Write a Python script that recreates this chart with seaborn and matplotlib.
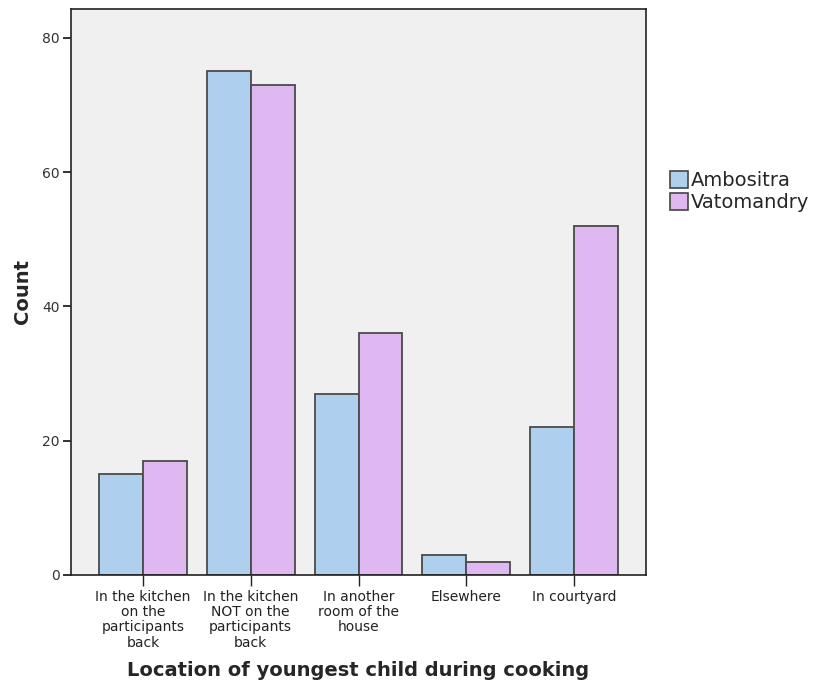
import matplotlib
matplotlib.use("Agg")
import matplotlib.pyplot as plt
import seaborn as sns
import pandas as pd
from matplotlib.patches import Patch

categories = ["In the kitchen\non the\nparticipants\nback",
              "In the kitchen\nNOT on the\nparticipants\nback",
              "In another\nroom of the\nhouse",
              "Elsewhere",
              "In courtyard"]
ambositra = [15, 75, 27, 3, 22]
vatomandry = [17, 73, 36, 2, 52]
series = ["Ambositra", "Vatomandry"]
colors = ["#AED0EE", "#DFB8F1"]

df = pd.DataFrame({
    "Location": categories * 2,
    "Count": ambositra + vatomandry,
    "Site": [series[0]] * len(categories) + [series[1]] * len(categories),
})

sns.set_style("ticks")
plt.rcParams['font.family'] = ['DejaVu Sans']

fig = plt.figure(figsize=(8.17, 6.84), dpi=100)
ax = fig.add_axes([71/817, 1-575/684, (646-71)/817, (575-9)/684])
ax.set_facecolor("#F0F0F0")

sns.barplot(data=df, x="Location", y="Count", hue="Site", order=categories,
            hue_order=series, palette=colors, saturation=1, width=0.815, ax=ax,
            edgecolor="#4a4a4a", linewidth=1.3, legend=False, errorbar=None)

ax.set_xlim(-0.667, 4.667)
ax.set_ylim(0, 84.3)
ax.set_yticks([0, 20, 40, 60, 80])
ax.tick_params(axis="y", labelsize=10, length=6, width=1.3, pad=2,
               color="#222222", labelcolor="#333333")
ax.tick_params(axis="x", labelsize=10, length=8, width=1.0, pad=3,
               color="#222222", labelcolor="#222222")
for lbl in ax.get_xticklabels():
    lbl.set_linespacing(1.1)
for s in ax.spines.values():
    s.set_visible(True)
    s.set_color("#222222")
    s.set_linewidth(1.2)

ax.set_xlabel("Location of youngest child during cooking", fontsize=14, fontweight="bold")
ax.set_ylabel("Count", fontsize=14, fontweight="bold")
ax.xaxis.label.set_va("center")
ax.yaxis.label.set_va("center")
ax.xaxis.set_label_coords(0.5, (575-671)/566)
ax.yaxis.set_label_coords((23-71)/575, 0.5)

handles = [Patch(facecolor=c, edgecolor="#444444", linewidth=1.2) for c in colors]
fig.legend(handles, series, loc="upper left", bbox_to_anchor=(670/817, 1-171/684),
           frameon=False, fontsize=14, handlelength=0.95, handleheight=0.95,
           handletextpad=0.1, labelspacing=0.15, borderaxespad=0, borderpad=0)

fig.savefig("out.png", dpi=100)
